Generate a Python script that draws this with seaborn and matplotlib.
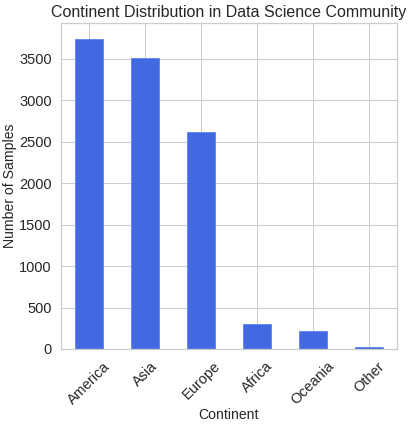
import matplotlib
matplotlib.use("Agg")
import matplotlib.pyplot as plt
import seaborn as sns
import pandas as pd

continents = ["America", "Asia", "Europe", "Africa", "Oceania", "Other"]
samples = [3745, 3515, 2622, 302, 218, 24]

sns.set_theme(style="whitegrid")
plt.rcParams['font.family'] = ['Liberation Sans', 'DejaVu Sans']

df = pd.DataFrame({"Continent": continents, "Number of Samples": samples})

fig = plt.figure(figsize=(412/72, 429/72), dpi=72)
ax = fig.add_axes([61/412, (429-349)/429, (397-61)/412, (349-23)/429])
sns.barplot(data=df, x="Continent", y="Number of Samples", color="royalblue",
            saturation=1, width=0.5, ax=ax, edgecolor="#5a7ff0", linewidth=0.8)
ax.set_axisbelow(True)
ax.grid(True, axis="both", color="#cccccc", linewidth=1)
ax.set_title("Continent Distribution in Data Science Community", fontsize=16, color="#262626")
ax.set_xlabel("Continent", fontsize=14, color="#262626", labelpad=1)
ax.set_ylabel("Number of Samples", fontsize=14, color="#262626", labelpad=2)
ax.tick_params(axis="both", labelsize=14.5, colors="#262626")
ax.tick_params(axis="x", pad=4)
for lab in ax.get_xticklabels():
    lab.set_rotation(45)
    lab.set_ha("center")
ax.set_xlim(-0.25 - 0.25, 5.25 + 0.25)
ax.set_ylim(0, 3932)
ax.set_yticks([0, 500, 1000, 1500, 2000, 2500, 3000, 3500])
for s in ax.spines.values():
    s.set_color("#cccccc")
fig.savefig("out.png", dpi=72)
